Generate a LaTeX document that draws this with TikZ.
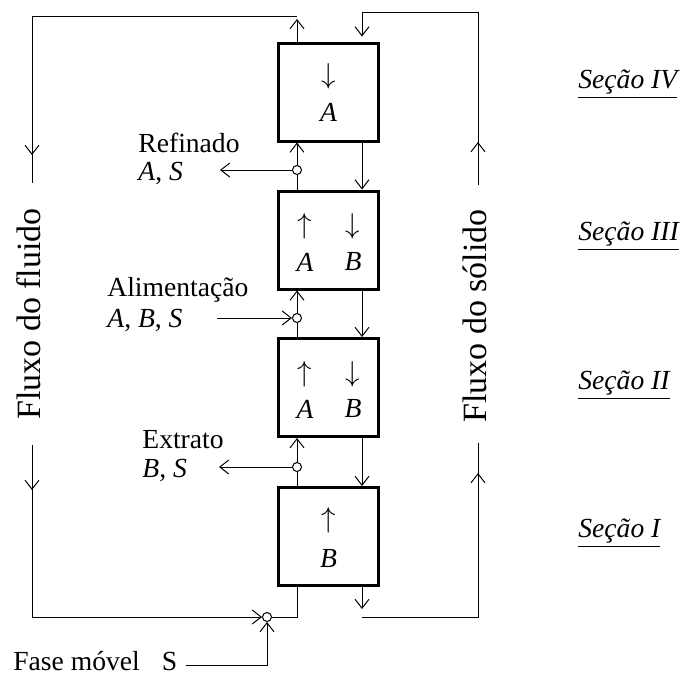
\documentclass[tikz,border=0pt]{standalone}
\usepackage{fontspec}
\setmainfont{Liberation Serif}
\usetikzlibrary{arrows.meta, positioning}

\begin{document}
\begin{tikzpicture}[
    x=0.5pt, y=-0.5pt,
    box/.style={draw, line width=1.5pt, minimum width=50pt, minimum height=49pt, inner sep=0pt},
    arr/.style={-{Straight Barb[length=4.5pt,width=7pt]}, line width=0.5pt},
    ln/.style={line width=0.5pt},
    jn/.style={circle, draw, fill=white, line width=0.5pt, minimum size=4.5pt, inner sep=0pt},
    txt/.style={font=\fontsize{13.8}{15}\selectfont, inner sep=0pt},
    flux/.style={font=\fontsize{17}{19}\selectfont, rotate=90, inner sep=0pt},
    sec/.style={font=\fontsize{13.8}{15}\selectfont\itshape, anchor=west, inner sep=0pt}
  ]
  \useasboundingbox (0,0) rectangle (682,675);

  % secoes da coluna
  \node[box] (s4) at (328.5,92) {};
  \node[box] (s3) at (328.5,240) {};
  \node[box] (s2) at (328.5,387.5) {};
  \node[box] (s1) at (328.5,536.5) {};

  % colunas do fluido e do solido
  \coordinate (fx) at (297,0);
  \coordinate (sx) at (362,0);

  % pontos de entrada e saida
  \node[jn] (jr) at (297,170) {};
  \node[jn] (ja) at (297,318) {};
  \node[jn] (je) at (297,467) {};
  \node[jn] (jf) at (267,617) {};

  % conteudo das secoes
  \node[txt] (u4) at (328.5,76) {$\downarrow$};
  \node[txt] (a4) at (328.5,112) {\textit{A}};
  \node[txt] (u3a) at (305,226) {$\uparrow$};
  \node[txt] (a3) at (305,262) {\textit{A}};
  \node[txt] (u3b) at (353,226) {$\downarrow$};
  \node[txt] (b3) at (353,262) {\textit{B}};
  \node[txt] (u2a) at (305,374) {$\uparrow$};
  \node[txt] (a2) at (305,409) {\textit{A}};
  \node[txt] (u2b) at (353,374) {$\downarrow$};
  \node[txt] (b2) at (353,409) {\textit{B}};
  \node[txt] (u1) at (328.5,520) {$\uparrow$};
  \node[txt] (b1) at (328.5,559) {\textit{B}};

  % fluxo do fluido entre secoes
  \draw[ln] (s3.north -| fx) -- (jr);
  \draw[arr] (jr) -- (s4.south -| fx);
  \draw[ln] (s2.north -| fx) -- (ja);
  \draw[arr] (ja) -- (s3.south -| fx);
  \draw[ln] (s1.north -| fx) -- (je);
  \draw[arr] (je) -- (s2.south -| fx);

  % fluxo do solido entre secoes
  \draw[arr] (s4.south -| sx) -- (s3.north -| sx);
  \draw[arr] (s3.south -| sx) -- (s2.north -| sx);
  \draw[arr] (s2.south -| sx) -- (s1.north -| sx);

  % correntes laterais
  \node[txt, anchor=west] (rf) at (138,143) {Refinado};
  \node[txt, anchor=west] (rfc) at (138,173) {\textit{A}, \textit{S}};
  \coordinate (rfout) at (220,170);
  \draw[arr] (jr) -- (rfout);

  \node[txt, anchor=west] (al) at (107,290) {Alimentação};
  \node[txt, anchor=west] (alc) at (107,320) {\textit{A}, \textit{B}, \textit{S}};
  \coordinate (alin) at (217,318);
  \draw[arr] (alin) -- (ja);

  \node[txt, anchor=west] (ex) at (142,440) {Extrato};
  \node[txt, anchor=west] (exc) at (142,470) {\textit{B}, \textit{S}};
  \coordinate (exout) at (219,467);
  \draw[arr] (je) -- (exout);

  \node[txt, anchor=west] (fm) at (13,661) {Fase móvel\hspace{11pt}S};
  \draw[arr] ([xshift=4pt,yshift=-2pt]fm.east) -| (jf);

  % recirculacao do fluido
  \coordinate (fltop) at (32,16);
  \coordinate (flmid1) at (32,183);
  \coordinate (flmid2) at (32,445);
  \coordinate (flbot) at (32,617);
  \draw[arr, shorten >=1.5pt] (s4.north -| fx) -- (fx |- fltop);
  \draw[ln] (fx |- fltop) -- (fltop) -- (flmid1);
  \draw[arr] (fltop) -- (32,155);
  \draw[ln] (flmid2) -- (flbot);
  \draw[arr] (flmid2) -- (32,490);
  \draw[arr] (flbot) -- (jf);
  \draw[ln] (jf) -| (s1.south -| fx);
  \node[flux] (ff) at (28.5,314) {Fluxo do fluido};

  % recirculacao do solido
  \coordinate (sltop) at (478,12);
  \coordinate (slmid1) at (478,185);
  \coordinate (slmid2) at (478,443);
  \coordinate (slbot) at (478,617);
  \draw[arr, shorten >=2.5pt] (sx |- sltop) -- (s4.north -| sx);
  \draw[ln] (sx |- sltop) -- (sltop) -- (slmid1);
  \draw[arr] (slmid1) -- (478,142);
  \draw[arr] (s1.south -| sx) -- (362,609);
  \draw[ln] (sx |- slbot) -- (slbot) -- (slmid2);
  \draw[arr] (slbot) -- (478,473);
  \node[flux] (fs) at (475,316) {Fluxo do sólido};

  % rotulos das secoes
  \node[sec] (l4) at (578,84) {\underline{Seção IV}};
  \node[sec] (l3) at (578,236) {\underline{Seção III}};
  \node[sec] (l2) at (578,385) {\underline{Seção II}};
  \node[sec] (l1) at (578,533) {\underline{Seção I}};
\end{tikzpicture}
\end{document}
